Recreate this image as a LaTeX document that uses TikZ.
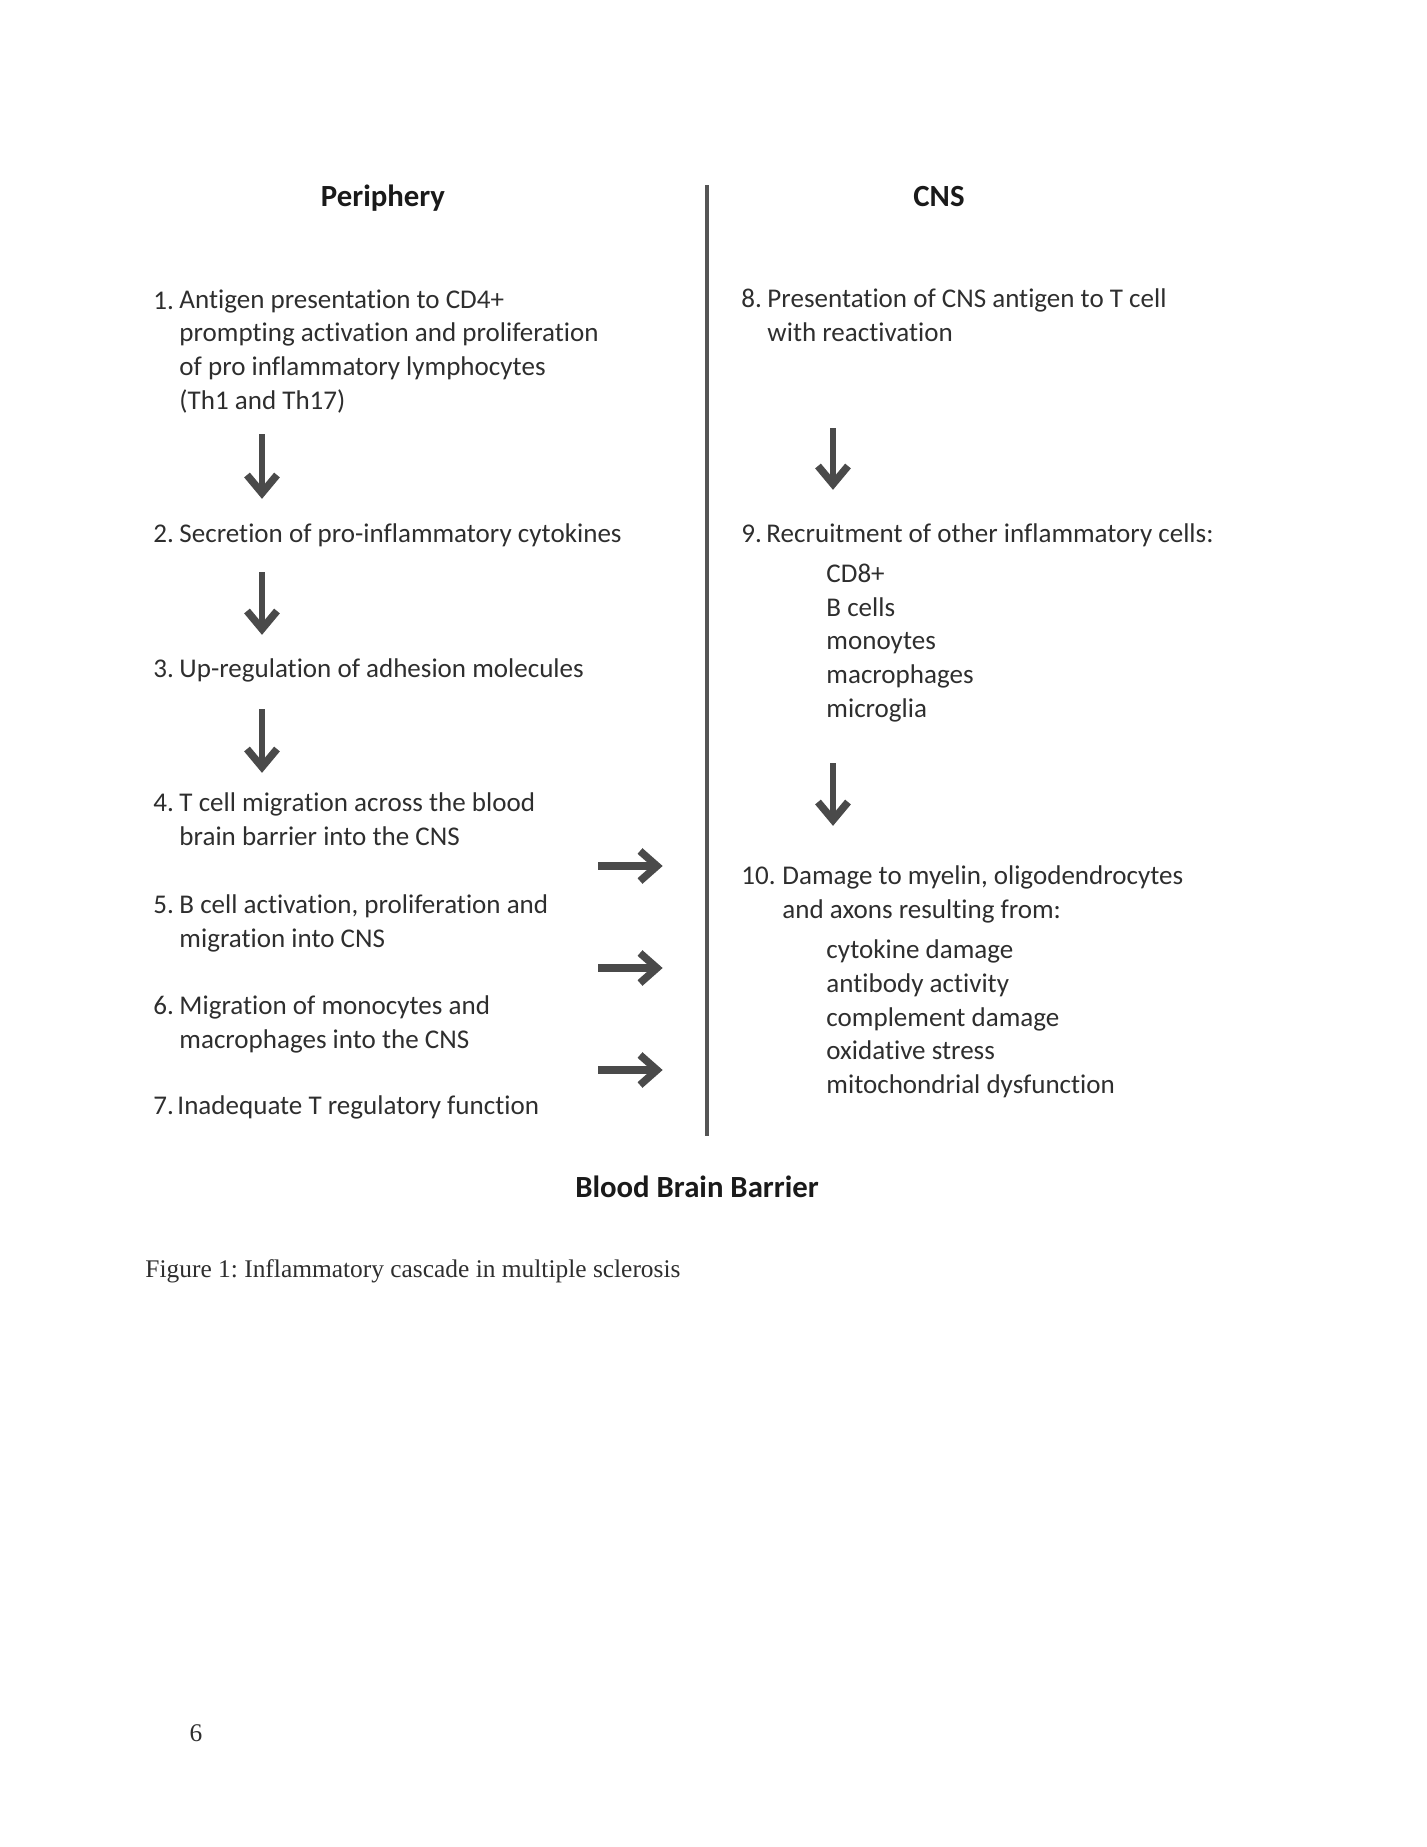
\documentclass[tikz,border=0pt]{standalone}
\usepackage{fontspec}
\setmainfont[Ligatures=NoCommon]{Carlito}
\newfontfamily\capfont{Liberation Serif}
\usetikzlibrary{arrows.meta}
\definecolor{txt}{HTML}{2E2E2E}
\definecolor{hd}{HTML}{1A1A1A}
\definecolor{arr}{HTML}{4A4A4A}
\definecolor{ln}{HTML}{555555}
\frenchspacing
\begin{document}
\begin{tikzpicture}[x=0.428872pt,y=-0.428872pt,
  body/.style={font=\fontsize{11.6}{14.37}\selectfont, text=txt, inner sep=0, anchor=base west, align=left},
  head/.style={font=\fontsize{13.2}{15}\selectfont\bfseries, text=hd, inner sep=0, anchor=base},
  captext/.style={font=\capfont\fontsize{10.9}{13}\selectfont, text=txt, inner sep=0, anchor=base west},
  dshaft/.style={draw=arr, line width=2.7pt, line cap=butt},
  rshaft/.style={draw=arr, line width=3.4pt, line cap=butt},
  chev/.style={draw=arr, line width=3.2pt, line join=miter, line cap=butt},
  divider/.style={draw=ln, line width=1.4pt}
]
\useasboundingbox (0,0) rectangle (1427,1847);

% headers
\node[head] (per) at (383,206) {Periphery};
\node[head] (cns) at (939,206) {CNS};
\node[head] (bbb) at (697,1197) {Blood Brain Barrier};

% divider
\coordinate (dtop) at (707,185);
\coordinate (dbot) at (707,1136);
\draw[divider] (dtop) -- (dbot);

% left column (multi-line nodes: base = last line)
\node[body] (n1) at (153,309) {1.};
\node[body] (t1) at (179,409) {Antigen presentation to CD4+\\prompting activation and proliferation\\of pro inflammatory lymphocytes\\(Th1 and Th17)};
\node[body] (n2) at (153,542) {2.};
\node[body] (t2) at (179,542) {Secretion of pro-inflammatory cytokines};
\node[body] (n3) at (153,677) {3.};
\node[body] (t3) at (179,677) {Up-regulation of adhesion molecules};
\node[body] (n4) at (153,811) {4.};
\node[body] (t4) at (179,845) {T cell migration across the blood\\brain barrier into the CNS};
\node[body] (n5) at (153,913) {5.};
\node[body] (t5) at (179,947) {B cell activation, proliferation and\\migration into CNS};
\node[body] (n6) at (153,1014) {6.};
\node[body] (t6) at (179,1048) {Migration of monocytes and\\macrophages into the CNS};
\node[body] (n7) at (153,1114) {7.};
\node[body] (t7) at (177,1114) {Inadequate T regulatory function};

% right column
\node[body] (n8) at (741,307) {8.};
\node[body] (t8) at (767,341) {Presentation of CNS antigen to T cell\\with reactivation};
\node[body] (n9) at (741,542) {9.};
\node[body] (t9) at (766,542) {Recruitment of other inflammatory cells:};
\node[body] (s9) at (826,717) {CD8+\\B cells\\monoytes\\macrophages\\microglia};
\node[body] (n10) at (741,884) {10.};
\node[body] (t10) at (782,918) {Damage to myelin, oligodendrocytes\\and axons resulting from:};
\node[body] (s10) at (826,1093) {cytokine damage\\antibody activity\\complement damage\\oxidative stress\\mitochondrial dysfunction};

% down arrows
\coordinate (a1s) at (262,434); \coordinate (a1e) at (262,498);
\coordinate (a2s) at (262,572); \coordinate (a2e) at (262,634);
\coordinate (a3s) at (262,709); \coordinate (a3e) at (262,772);
\coordinate (a4s) at (833,428); \coordinate (a4e) at (833,489);
\coordinate (a5s) at (833,763); \coordinate (a5e) at (833,825);
\foreach \a in {a1,a2,a3,a4,a5}{
  \draw[dshaft] (\a s) -- ([shift={(0,-7)}]\a e);
  \draw[chev] ([shift={(-15,-23)}]\a e) -- ([shift={(0,-5)}]\a e) -- ([shift={(15,-23)}]\a e);
}

% right arrows
\coordinate (r1s) at (598,866); \coordinate (r1e) at (662,866);
\coordinate (r2s) at (598,968); \coordinate (r2e) at (662,968);
\coordinate (r3s) at (598,1070); \coordinate (r3e) at (662,1070);
\foreach \r in {r1,r2,r3}{
  \draw[rshaft] (\r s) -- ([shift={(-7,0)}]\r e);
  \draw[chev] ([shift={(-22,-15)}]\r e) -- ([shift={(-5,0)}]\r e) -- ([shift={(-22,15)}]\r e);
}

% caption and page number
\node[captext] (fig) at (145,1277) {Figure 1: Inflammatory cascade in multiple sclerosis};
\node[captext, anchor=base] (pg) at (196,1741) {6};
\end{tikzpicture}
\end{document}
